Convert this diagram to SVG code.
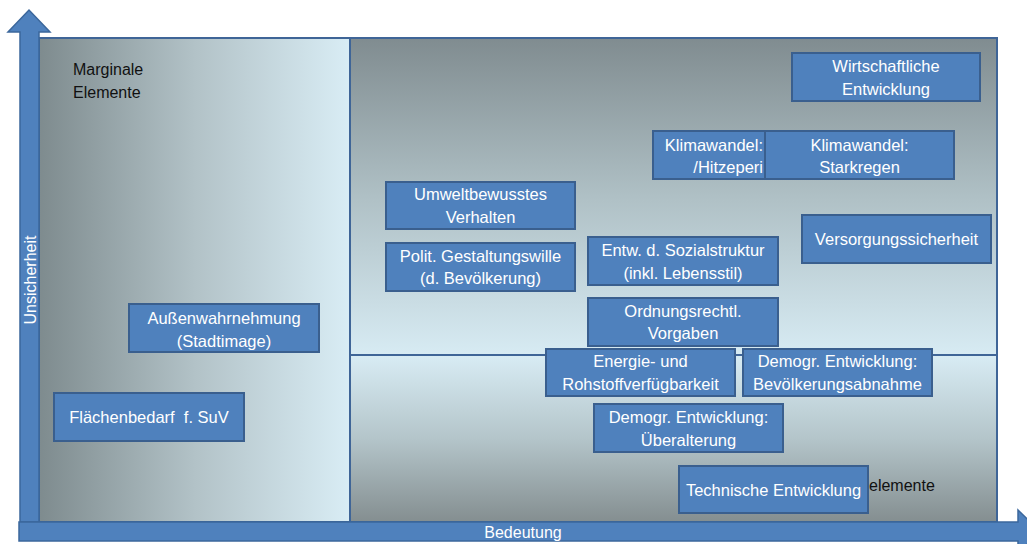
<svg xmlns="http://www.w3.org/2000/svg" width="1027" height="544" viewBox="0 0 1027 544">
<defs>
<linearGradient id="gLeft" x1="0" y1="0" x2="1" y2="0">
<stop offset="0" stop-color="#7e8b8e"/>
<stop offset="0.5" stop-color="#b2c2c7"/>
<stop offset="1" stop-color="#d9edf5"/>
</linearGradient>
<linearGradient id="gTop" x1="0" y1="0" x2="0" y2="1">
<stop offset="0" stop-color="#808c90"/>
<stop offset="0.5" stop-color="#afc0c5"/>
<stop offset="1" stop-color="#d7ebf3"/>
</linearGradient>
<linearGradient id="gBot" x1="0" y1="0" x2="0" y2="1">
<stop offset="0" stop-color="#d8ecf4"/>
<stop offset="0.5" stop-color="#b4c5ca"/>
<stop offset="1" stop-color="#848e90"/>
</linearGradient>
<style>
.panel{stroke:#3f6597;stroke-width:2}
.box{fill:#4f81bd;stroke:#3a5f8e;stroke-width:2}
.t{font-family:"Liberation Sans",Arial,sans-serif;font-size:16.5px;fill:#ffffff;text-anchor:middle;white-space:pre}
.d{font-family:"Liberation Sans",Arial,sans-serif;font-size:16px;fill:#111111}
.ax{fill:#4f81bd;stroke:#3b679c;stroke-width:1.5}
.axt{font-family:"Liberation Sans",Arial,sans-serif;font-size:16px;fill:#ffffff;text-anchor:middle}
</style>
</defs>
<g id="panels">
<rect class="panel" x="39" y="38" width="311" height="484" fill="url(#gLeft)"/>
<rect class="panel" x="350" y="38" width="647" height="317" fill="url(#gTop)"/>
<rect class="panel" x="350" y="355" width="647" height="167" fill="url(#gBot)"/>
<text class="d" x="73" y="75">Marginale</text>
<text class="d" x="73" y="98">Elemente</text>
<text class="d" x="869" y="491">elemente</text>
</g>
<g id="connectors">
<path class="ax" d="M20,522 L20,32 L8,32 L29,10 L50,32 L39,32 L39,522 Z"/>
<path class="ax" d="M19,522 L1018,522 L1018,510 L1040,531.5 L1018,553 L1018,541 L19,541 Z"/>
<text class="axt" transform="translate(36,280) rotate(-90)">Unsicherheit</text>
<text class="axt" x="523" y="538">Bedeutung</text>
</g>
<g id="n-wirtschaft">
<rect class="box" x="792" y="53" width="188" height="48"/>
<text class="t" x="886" y="72">Wirtschaftliche</text>
<text class="t" x="886" y="95">Entwicklung</text>
</g>
<g id="n-hitze">
<rect class="box" x="653" y="131" width="113" height="48"/>
<text class="t" x="763" y="151" style="text-anchor:end">Klimawandel:</text>
<text class="t" x="763" y="173" style="text-anchor:end">/Hitzeperi</text>
</g>
<g id="n-starkregen">
<rect class="box" x="765" y="131" width="189" height="48"/>
<text class="t" x="859.5" y="151">Klimawandel:</text>
<text class="t" x="859.5" y="173">Starkregen</text>
</g>
<g id="n-versorgung">
<rect class="box" x="802" y="215" width="189" height="48"/>
<text class="t" x="896.5" y="245">Versorgungssicherheit</text>
</g>
<g id="n-umwelt">
<rect class="box" x="386" y="182" width="189" height="47"/>
<text class="t" x="480.5" y="200">Umweltbewusstes</text>
<text class="t" x="480.5" y="223">Verhalten</text>
</g>
<g id="n-polit">
<rect class="box" x="386" y="243" width="189" height="48"/>
<text class="t" x="480.5" y="262">Polit. Gestaltungswille</text>
<text class="t" x="480.5" y="284">(d. Bevölkerung)</text>
</g>
<g id="n-sozial">
<rect class="box" x="588" y="237" width="190" height="48"/>
<text class="t" x="683" y="256">Entw. d. Sozialstruktur</text>
<text class="t" x="683" y="279">(inkl. Lebensstil)</text>
</g>
<g id="n-ordnung">
<rect class="box" x="588" y="298" width="190" height="48"/>
<text class="t" x="683" y="317">Ordnungsrechtl.</text>
<text class="t" x="683" y="339">Vorgaben</text>
</g>
<g id="n-energie">
<rect class="box" x="546" y="349" width="189" height="47"/>
<text class="t" x="640.5" y="367">Energie- und</text>
<text class="t" x="640.5" y="390">Rohstoffverfügbarkeit</text>
</g>
<g id="n-abnahme">
<rect class="box" x="743" y="349" width="189" height="47"/>
<text class="t" x="837.5" y="367">Demogr. Entwicklung:</text>
<text class="t" x="837.5" y="390">Bevölkerungsabnahme</text>
</g>
<g id="n-ueberalterung">
<rect class="box" x="594" y="404" width="189" height="48"/>
<text class="t" x="688.5" y="423">Demogr. Entwicklung:</text>
<text class="t" x="688.5" y="446">Überalterung</text>
</g>
<g id="n-technik">
<rect class="box" x="679" y="466" width="189" height="47"/>
<text class="t" x="773.5" y="496">Technische Entwicklung</text>
</g>
<g id="n-aussen">
<rect class="box" x="129" y="304" width="190" height="48"/>
<text class="t" x="224" y="324">Außenwahrnehmung</text>
<text class="t" x="224" y="347">(Stadtimage)</text>
</g>
<g id="n-flaeche">
<rect class="box" x="54" y="393" width="190" height="48"/>
<text class="t" x="149" y="423" xml:space="preserve">Flächenbedarf  f. SuV</text>
</g>
</svg>
